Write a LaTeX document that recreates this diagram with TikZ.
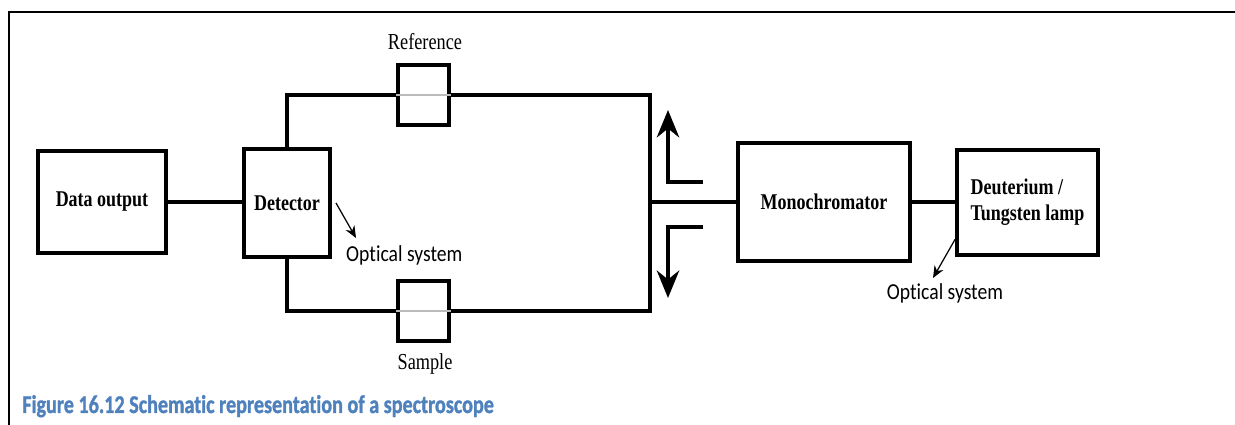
\documentclass[tikz,border=0pt]{standalone}
\usepackage{fontspec}
\setmainfont{Liberation Serif}[FakeStretch=0.8]
\newfontfamily\calfont{Carlito}[FakeStretch=0.86, Ligatures=NoCommon]
\newfontfamily\capfont{Carlito}[FakeStretch=0.79, Ligatures=NoCommon, UprightFont=*-Bold, FakeBold=1.2]
\usetikzlibrary{arrows.meta,positioning,calc}
\definecolor{capblue}{HTML}{4F81BD}
\definecolor{beamgray}{HTML}{BBBBBB}

\begin{document}
\begin{tikzpicture}[
    every node/.style={font=\fontsize{13}{15}\selectfont},
    block/.style={rectangle, draw, line width=2.2pt, align=center,
                  font=\fontsize{12.8}{15}\selectfont\bfseries},
    cell/.style={rectangle, draw, line width=2.2pt, minimum width=1.02cm, minimum height=1.2cm},
    wire/.style={line width=1.8pt},
    beamarrow/.style={line width=1.8pt, -{Stealth[length=5.5mm, width=4.5mm, inset=1.8mm]}},
    pointer/.style={line width=0.7pt, -{Stealth[length=2.4mm, width=2mm]}},
    optlabel/.style={font=\calfont\fontsize{13}{15}\selectfont},
]
\useasboundingbox (0,0) rectangle (24.7,8.5);

% --- Frame ---
\draw[line width=1.6pt] (0.18,0) -- (0.18,8.26) -- (24.7,8.26);

% --- Blocks ---
\node[block, minimum width=2.56cm, minimum height=2.04cm] (dataout) at (2.04,4.46) {Data output};
\node[block, minimum width=1.72cm, minimum height=2.16cm] (detector) at (5.74,4.44) {Detector};
\node[block, minimum width=3.44cm, minimum height=2.36cm] (mono) at (16.48,4.46) {Monochromator};
\node[block, align=left, minimum width=2.82cm, minimum height=2.1cm] (lamp) at (20.55,4.45) {Deuterium /\\Tungsten lamp};

% --- Cells ---
\node[cell] (refcell) at (8.47,6.6) {};
\node[cell] (samplecell) at (8.47,2.28) {};
\node (reflabel) at (8.5,7.66) {Reference};
\node (samplelabel) at (8.5,1.22) {Sample};

% --- Junctions ---
\coordinate (jtop) at (13.0,6.6);
\coordinate (jbot) at (13.0,2.28);
\coordinate (jmid) at (13.0,4.46);

% --- Wires ---
\draw[wire] (dataout.east) -- (dataout.east -| detector.west);
\draw[wire] (detector.north) |- (refcell.west);
\draw[wire] (refcell.east) -- (jtop) -- (jbot) -- (samplecell.east);
\draw[wire] (samplecell.west) -| (detector.south);
\draw[wire] (jmid) -- (jmid -| mono.west);
\draw[wire] (mono.east) -- (mono.east -| lamp.west);
\draw[beamgray, line width=0.8pt] (refcell.west) -- (refcell.east);
\draw[beamgray, line width=0.8pt] (samplecell.west) -- (samplecell.east);

% --- Beam split arrows ---
\coordinate (upend) at (14.06,4.86);
\coordinate (uptip) at (13.36,6.3);
\coordinate (dnend) at (14.06,3.96);
\coordinate (dntip) at (13.36,2.54);
\draw[beamarrow] (upend) -| (uptip);
\draw[beamarrow] (dnend) -| (dntip);

% --- Optical system labels ---
\node[optlabel, anchor=west] (optleft) at (6.8,3.4) {Optical system};
\node[optlabel] (optright) at (18.9,2.64) {Optical system};
\coordinate (detptr) at (6.72,4.44);
\coordinate (detptrtip) at (7.12,3.74);
\coordinate (lampptr) at ($(lamp.south west)+(0,0.35)$);
\coordinate (lampptrtip) at (18.66,2.94);
\draw[pointer] (detptr) -- (detptrtip);
\draw[pointer] (lampptr) -- (lampptrtip);

% --- Caption ---
\node[anchor=base west, inner sep=0, text=capblue,
      font=\capfont\fontsize{14.5}{16}\selectfont] (caption) at (0.44,0.24)
      {Figure 16.12 Schematic representation of a spectroscope};

\end{tikzpicture}
\end{document}
